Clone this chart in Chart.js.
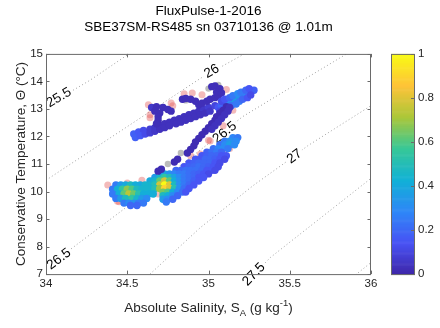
<!DOCTYPE html>
<html>
<head>
<meta charset="utf-8">
<script src="https://cdn.jsdelivr.net/npm/chart.js@4.4.0/dist/chart.umd.min.js"></script>
<style>
  html, body { margin: 0; padding: 0; background: #fff; }
</style>
</head>
<body>
<canvas id="tsChart" width="440" height="328"></canvas>
<script>
// density contours (sigma0)
const levels = ['25.5', '26', '26.5', '27', '27.5', '28'];
const contourSal = [
  [34.00, 34.27, 34.51],
  [34.00, 34.38, 34.95, 35.22],
  [34.00, 34.18, 34.47, 35.02, 35.21, 35.50, 35.85],
  [34.64, 34.95, 35.28, 35.46, 35.61, 36.00],
  [35.26, 35.38, 36.00],
  [35.87, 36.06]
];
const contourTemp = [
  [13.10, 14.04, 15.00],
  [10.41, 11.89, 14.11, 15.00],
  [7.23, 8.03, 9.32, 11.83, 12.72, 13.76, 15.00],
  [7.00, 8.69, 10.24, 11.00, 11.66, 13.12],
  [6.86, 7.60, 10.48],
  [6.81, 7.70]
];
const labelSal = [[34.08], [35.02], [35.10, 34.08], [35.53], [35.28], []];
const labelTemp = [[13.41], [14.37], [12.14, 7.54], [11.27], [6.99], []];

// lower band, rows of constant temperature
const lowerRowTemp = [11.96, 11.83, 11.70, 11.56, 11.43, 11.30, 11.17, 11.04, 10.90, 10.77,
                      10.64, 10.51, 10.38, 10.24, 10.11, 9.98, 9.85, 9.72, 9.62];
const lowerRowSal = [
  [35.15, 35.18],
  [35.10, 35.13, 35.17],
  [35.07, 35.10, 35.13, 35.16],
  [35.03, 35.06, 35.09, 35.12],
  [34.99, 35.02, 35.05, 35.08],
  [34.96, 34.99, 35.02, 35.05, 35.08, 35.11],
  [34.92, 34.95, 34.98, 35.01, 35.04, 35.07, 35.10],
  [34.88, 34.91, 34.94, 34.97, 35.01, 35.04, 35.07],
  [34.85, 34.88, 34.91, 34.94, 34.97, 35.00, 35.03, 35.06],
  [34.80, 34.83, 34.86, 34.89, 34.92, 34.96, 34.99, 35.02, 35.04],
  [34.73, 34.76, 34.79, 34.82, 34.85, 34.88, 34.91, 34.94, 34.97, 35.00],
  [34.67, 34.70, 34.73, 34.76, 34.79, 34.82, 34.85, 34.88, 34.91, 34.94, 34.97],
  [34.64, 34.67, 34.70, 34.73, 34.76, 34.79, 34.82, 34.85, 34.88, 34.91, 34.94],
  [34.64, 34.67, 34.70, 34.73, 34.76, 34.79, 34.82, 34.85, 34.88, 34.91],
  [34.64, 34.67, 34.70, 34.73, 34.76, 34.79, 34.82, 34.85, 34.88],
  [34.72, 34.75, 34.78, 34.81, 34.84, 34.86],
  [34.72, 34.75, 34.78, 34.81],
  [34.72, 34.75, 34.78],
  [34.74]
];
const lowerRowFrac = [
  [0.28, 0.25],
  [0.25, 0.32, 0.30],
  [0.22, 0.30, 0.36, 0.30],
  [0.22, 0.28, 0.30, 0.25],
  [0.18, 0.22, 0.25, 0.20],
  [0.15, 0.18, 0.20, 0.20, 0.15, 0.15],
  [0.15, 0.15, 0.20, 0.20, 0.18, 0.15, 0.12],
  [0.15, 0.18, 0.20, 0.20, 0.20, 0.15, 0.12],
  [0.15, 0.18, 0.20, 0.22, 0.20, 0.18, 0.15, 0.12],
  [0.20, 0.20, 0.22, 0.22, 0.22, 0.20, 0.15, 0.15, 0.12],
  [0.38, 0.32, 0.28, 0.25, 0.25, 0.22, 0.20, 0.18, 0.15, 0.12],
  [0.35, 0.45, 0.55, 0.48, 0.38, 0.30, 0.25, 0.22, 0.20, 0.15, 0.15],
  [0.40, 0.45, 0.62, 0.78, 0.62, 0.42, 0.32, 0.25, 0.22, 0.18, 0.15],
  [0.45, 0.50, 0.78, 1.00, 0.80, 0.48, 0.32, 0.25, 0.20, 0.15],
  [0.45, 0.50, 0.70, 0.90, 0.80, 0.52, 0.32, 0.22, 0.15],
  [0.65, 0.60, 0.42, 0.30, 0.22, 0.15],
  [0.48, 0.42, 0.30, 0.20],
  [0.35, 0.30, 0.20],
  [0.25]
];

// fresher patch at the left end of the lower band
const patchRowTemp = [10.24, 10.08, 9.91, 9.75, 9.58, 9.49];
const patchRowSal = [
  [34.43, 34.46, 34.49, 34.52, 34.55, 34.58, 34.61],
  [34.41, 34.44, 34.47, 34.50, 34.53, 34.56, 34.59, 34.62],
  [34.41, 34.45, 34.48, 34.51, 34.54, 34.57, 34.60, 34.63, 34.66],
  [34.43, 34.46, 34.49, 34.53, 34.56, 34.59, 34.62],
  [34.48, 34.51, 34.54, 34.57, 34.60],
  [34.52, 34.56]
];
const patchRowFrac = [
  [0.25, 0.35, 0.40, 0.48, 0.42, 0.40, 0.45],
  [0.25, 0.42, 0.55, 0.68, 0.60, 0.48, 0.45, 0.45],
  [0.25, 0.42, 0.62, 0.74, 0.64, 0.52, 0.42, 0.42, 0.42],
  [0.25, 0.35, 0.48, 0.55, 0.45, 0.35, 0.30],
  [0.25, 0.30, 0.32, 0.25, 0.25],
  [0.20, 0.20]
];

// upper strands: bar, hook, top bits, warm blob, diagonal
const strandSal = [
  34.54, 34.57, 34.60, 34.64, 34.67, 34.70, 34.73, 34.76, 34.79, 34.82, 34.85, 34.88, 34.91, 34.94, 34.97, 35.00, 35.04,
  34.55, 34.58, 34.61, 34.64, 34.67, 34.70, 34.73, 34.76, 34.80, 34.83, 34.86, 34.89, 34.92, 34.95, 34.98, 35.01,
  34.65, 34.68, 34.72, 34.75, 34.77, 34.67, 34.70, 34.69, 34.69, 34.68,
  34.84, 34.86, 34.89, 34.92, 34.94, 34.96, 34.99, 35.01, 35.04, 35.06, 35.02, 35.04, 35.07, 35.05, 35.08,
  35.06, 35.08, 35.11, 35.13, 35.16, 35.18, 35.21, 35.23, 35.26, 35.28,
  35.08, 35.10, 35.13, 35.15, 35.18, 35.20, 35.23, 35.25,
  35.07, 35.09, 35.12, 35.14, 35.17, 35.19, 35.21, 35.24, 35.26,
  35.11, 35.09, 35.07, 35.05, 35.04, 35.02, 35.00, 34.98, 34.96, 34.94, 34.92, 34.91, 34.89, 34.87,
  35.13, 35.12, 35.10, 35.08, 35.06, 35.04, 35.02,
  34.81, 34.79, 34.71, 34.69
];
const strandTemp = [
  12.09, 12.16, 12.22, 12.26, 12.32, 12.39, 12.46, 12.52, 12.59, 12.65, 12.72, 12.79, 12.85, 12.92, 12.98, 13.05, 13.12,
  11.96, 12.03, 12.09, 12.13, 12.19, 12.26, 12.32, 12.39, 12.46, 12.52, 12.59, 12.65, 12.72, 12.79, 12.85, 12.92,
  13.05, 13.08, 13.05, 12.98, 12.92, 12.92, 12.85, 12.72, 12.59, 12.46,
  13.35, 13.38, 13.35, 13.28, 13.15, 13.21, 13.28, 13.35, 13.41, 13.48, 13.81, 13.84, 13.74, 13.61, 13.58,
  13.05, 13.12, 13.18, 13.25, 13.31, 13.41, 13.48, 13.55, 13.61, 13.68,
  13.28, 13.35, 13.41, 13.48, 13.55, 13.61, 13.68, 13.74,
  12.92, 12.98, 13.05, 13.12, 13.18, 13.28, 13.35, 13.41, 13.51,
  13.08, 12.95, 12.85, 12.72, 12.59, 12.46, 12.32, 12.19, 12.06, 11.93, 11.80, 11.66, 11.53, 11.40,
  13.05, 12.92, 12.79, 12.65, 12.52, 12.39, 12.26,
  11.17, 11.07, 10.81, 10.74
];
const strandFrac = [
  0.18, 0.16, 0.12, 0.08, 0.06, 0.04, 0.04, 0.04, 0.04, 0.04, 0.04, 0.04, 0.04, 0.04, 0.06, 0.08, 0.10,
  0.18, 0.16, 0.12, 0.08, 0.06, 0.04, 0.04, 0.04, 0.04, 0.04, 0.04, 0.04, 0.04, 0.04, 0.04, 0.06,
  0.06, 0.03, 0.03, 0.03, 0.03, 0.03, 0.03, 0.03, 0.03, 0.03,
  0.03, 0.03, 0.03, 0.03, 0.03, 0.03, 0.03, 0.03, 0.03, 0.03, 0.03, 0.03, 0.03, 0.03, 0.03,
  0.15, 0.20, 0.25, 0.30, 0.36, 0.42, 0.36, 0.30, 0.25, 0.18,
  0.12, 0.15, 0.20, 0.25, 0.30, 0.25, 0.20, 0.15,
  0.12, 0.15, 0.20, 0.22, 0.25, 0.25, 0.20, 0.15, 0.12,
  0.02, 0.02, 0.02, 0.02, 0.02, 0.02, 0.02, 0.02, 0.02, 0.02, 0.02, 0.02, 0.02, 0.02,
  0.04, 0.04, 0.04, 0.04, 0.04, 0.04, 0.04,
  0.02, 0.02, 0.02, 0.02
];

// flagged samples (pink) and grey samples
const flagSal = [34.38, 34.50, 34.59, 34.44, 34.45, 34.69, 34.89, 34.95, 35.00, 35.01, 35.09, 35.13,
                 35.09, 35.15, 35.11, 34.96, 34.85, 34.90, 34.77, 34.78, 34.63, 34.64, 34.64];
const flagTemp = [10.24, 10.31, 10.41, 9.65, 9.63, 9.91, 11.30, 11.36, 11.86, 11.84, 11.47, 11.56,
                  12.39, 12.95, 13.71, 13.52, 13.55, 13.58, 13.22, 13.12, 13.15, 12.79, 12.68];
const graySal = [35.00, 35.06, 34.86, 34.75, 34.83];
const grayTemp = [13.74, 13.87, 13.31, 11.00, 11.40];

const parulaStops = [[62, 38, 168], [72, 82, 244], [46, 135, 247], [18, 177, 214],
                     [55, 200, 151], [171, 199, 57], [254, 195, 56], [249, 251, 21]];
function parula(v) {
  const p = Math.max(0, Math.min(1, v)) * (parulaStops.length - 1);
  const i = Math.min(Math.floor(p), parulaStops.length - 2);
  const f = p - i;
  const a = parulaStops[i], b = parulaStops[i + 1];
  return 'rgb(' + a.map((c, k) => Math.round(c + (b[k] - c) * f)).join(',') + ')';
}

// build the scatter tables
const goodPts = [];
const goodFrac = [];
lowerRowTemp.forEach((t, r) => lowerRowSal[r].forEach((s, j) => { goodPts.push({ x: s, y: t }); goodFrac.push(lowerRowFrac[r][j]); }));
patchRowTemp.forEach((t, r) => patchRowSal[r].forEach((s, j) => { goodPts.push({ x: s, y: t }); goodFrac.push(patchRowFrac[r][j]); }));
strandSal.forEach((s, i) => { goodPts.push({ x: s, y: strandTemp[i] }); goodFrac.push(strandFrac[i]); });

const fontFam = '"Liberation Sans", Arial, Helvetica, sans-serif';
Chart.defaults.font.family = fontFam;
const axisGrey = '#262626';
const plainNum = v => String(Number(v.toFixed(2)));

const contourSets = levels.map((lv, k) => ({
  data: contourSal[k].map((s, i) => ({ x: s, y: contourTemp[k][i] })),
  showLine: true,
  pointRadius: 0,
  borderColor: '#a0a0a0',
  borderWidth: 1,
  borderDash: [1, 2.5],
  fill: false,
  order: 3,
  levelIndex: k
}));

const tsDecor = {
  id: 'tsDecor',
  afterDatasetDraw(chart, args) {
    const ds = chart.data.datasets[args.index];
    if (ds.levelIndex === undefined) return;
    const k = ds.levelIndex;
    const xs = chart.scales.x, ys = chart.scales.y, ctx = chart.ctx;
    const pts = contourSal[k].map((s, i) => [xs.getPixelForValue(s), ys.getPixelForValue(contourTemp[k][i])]);
    labelSal[k].forEach((s, j) => {
      const px = xs.getPixelForValue(s), py = ys.getPixelForValue(labelTemp[k][j]);
      let seg = 0;
      for (let i = 0; i < pts.length - 1; i++) if (px >= pts[i][0]) seg = i;
      const ang = Math.atan2(pts[seg + 1][1] - pts[seg][1], pts[seg + 1][0] - pts[seg][0]);
      ctx.save();
      ctx.translate(px, py);
      ctx.rotate(ang);
      ctx.font = '13.5px ' + fontFam;
      const w = ctx.measureText(levels[k]).width;
      ctx.fillStyle = '#fff';
      ctx.fillRect(-w / 2 - 2, -6, w + 4, 12);
      ctx.fillStyle = '#000';
      ctx.textAlign = 'center';
      ctx.textBaseline = 'middle';
      ctx.fillText(levels[k], 0, 0);
      ctx.restore();
    });
  },
  afterDraw(chart) {
    const ctx = chart.ctx;
    const { left, right, top, bottom } = chart.chartArea;
    const xs = chart.scales.x, ys = chart.scales.y, cb = chart.scales.cb;
    ctx.save();

    // axes box with inward ticks
    ctx.strokeStyle = '#6a6a6a';
    ctx.lineWidth = 1;
    ctx.strokeRect(left + 0.5, top + 0.5, right - left - 1, bottom - top);
    ctx.beginPath();
    xs.ticks.forEach(t => {
      const x = Math.round(xs.getPixelForValue(t.value)) + 0.5;
      ctx.moveTo(x, bottom); ctx.lineTo(x, bottom - 3.5);
      ctx.moveTo(x, top); ctx.lineTo(x, top + 3.5);
    });
    ys.ticks.forEach(t => {
      const y = Math.round(ys.getPixelForValue(t.value)) + 0.5;
      ctx.moveTo(left, y); ctx.lineTo(left + 3.5, y);
      ctx.moveTo(right, y); ctx.lineTo(right - 3.5, y);
    });
    ctx.stroke();

    // colour bar
    const cx0 = right + 20, cw = 23;
    for (let v = 0; v < 1; v += 0.005) {
      const y0 = cb.getPixelForValue(v), y1 = cb.getPixelForValue(Math.min(1, v + 0.005));
      ctx.fillStyle = parula(v + 0.0025);
      ctx.fillRect(cx0, y1, cw, y0 - y1 + 0.6);
    }
    ctx.strokeStyle = '#6a6a6a';
    ctx.strokeRect(cx0 + 0.5, cb.top + 0.5, cw, cb.bottom - cb.top);
    ctx.beginPath();
    cb.ticks.forEach(t => {
      const y = Math.round(cb.getPixelForValue(t.value)) + 0.5;
      ctx.moveTo(cx0 + cw, y); ctx.lineTo(cx0 + cw - 3, y);
    });
    ctx.stroke();

    // titles
    const mid = (left + right) / 2;
    ctx.fillStyle = '#000';
    ctx.textAlign = 'center';
    ctx.textBaseline = 'alphabetic';
    ctx.font = '13.5px ' + fontFam;
    ctx.fillText('FluxPulse-1-2016', mid, 15);
    ctx.fillText('SBE37SM-RS485 sn 03710136 @ 1.01m', mid, 30.5);

    // x label with subscript and superscript
    const parts = [['Absolute Salinity, S', 13.5, 0], ['A', 9.5, 4], [' (g kg', 13.5, 0], ['-1', 9.5, -6], [')', 13.5, 0]];
    let total = 0;
    parts.forEach(p => { ctx.font = p[1] + 'px ' + fontFam; p.push(ctx.measureText(p[0]).width); total += p[3]; });
    let xp = mid - total / 2;
    ctx.fillStyle = axisGrey;
    ctx.textAlign = 'left';
    parts.forEach(p => { ctx.font = p[1] + 'px ' + fontFam; ctx.fillText(p[0], xp, 312 + p[2]); xp += p[3]; });

    // y label
    ctx.translate(25, (top + bottom) / 2);
    ctx.rotate(-Math.PI / 2);
    ctx.textAlign = 'center';
    ctx.font = '13.5px ' + fontFam;
    ctx.fillText('Conservative Temperature, \u0398 (\u00b0C)', 0, 0);
    ctx.restore();
  }
};

const tickFont = { family: fontFam, size: 11.5 };

new Chart(document.getElementById('tsChart').getContext('2d'), {
  type: 'scatter',
  data: {
    datasets: [
      ...contourSets,
      {
        data: flagSal.map((s, i) => ({ x: s, y: flagTemp[i] })),
        pointRadius: 3.5,
        pointBorderWidth: 0,
        backgroundColor: 'rgba(226, 90, 90, 0.42)',
        order: 2
      },
      {
        data: graySal.map((s, i) => ({ x: s, y: grayTemp[i] })),
        pointRadius: 3.2,
        pointBorderWidth: 0,
        backgroundColor: 'rgba(175, 175, 175, 0.85)',
        order: 2
      },
      {
        data: goodPts,
        pointRadius: 3.7,
        pointBorderWidth: 0,
        backgroundColor: c => parula(goodFrac[c.dataIndex]),
        order: 1
      }
    ]
  },
  options: {
    responsive: false,
    animation: false,
    devicePixelRatio: 1,
    events: [],
    layout: { padding: { top: 36, left: 0, right: 0, bottom: 0 } },
    plugins: { legend: { display: false }, tooltip: { enabled: false }, title: { display: false } },
    scales: {
      x: {
        type: 'linear', min: 34, max: 36, position: 'bottom',
        ticks: { stepSize: 0.5, color: axisGrey, font: tickFont, padding: 3, maxRotation: 0, callback: plainNum },
        grid: { display: false, drawTicks: false },
        border: { display: false },
        afterFit: s => { s.height = 50; }
      },
      y: {
        type: 'linear', min: 7, max: 15, position: 'left',
        ticks: { stepSize: 1, color: axisGrey, font: tickFont, padding: 3, callback: plainNum },
        grid: { display: false, drawTicks: false },
        border: { display: false },
        afterFit: s => { s.width = 46; }
      },
      cb: {
        type: 'linear', min: 0, max: 1, position: 'right',
        ticks: { stepSize: 0.2, color: axisGrey, font: tickFont, padding: 47, callback: plainNum },
        grid: { display: false, drawTicks: false },
        border: { display: false },
        afterFit: s => { s.width = 69; }
      }
    }
  },
  plugins: [tsDecor]
});
</script>
</body>
</html>
